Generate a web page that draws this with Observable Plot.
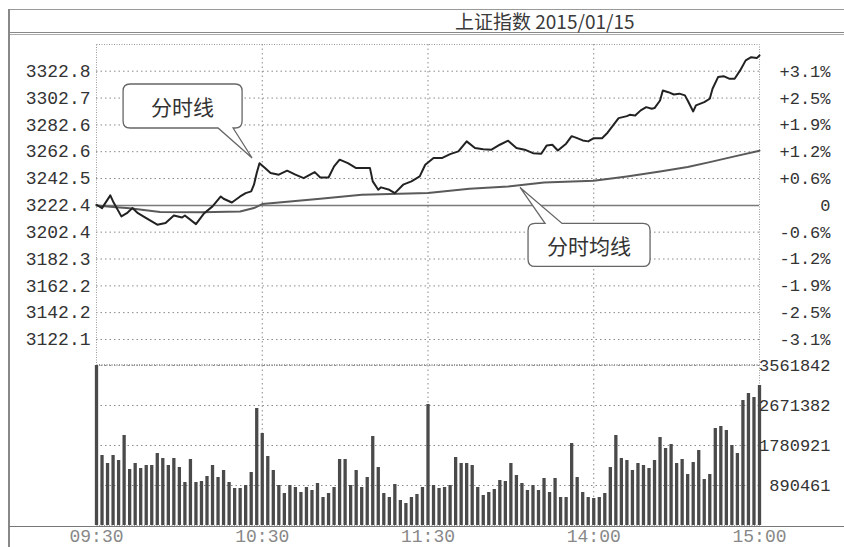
<!DOCTYPE html>
<html><head><meta charset="utf-8">
<script src="https://cdn.jsdelivr.net/npm/d3@7"></script>
<script src="https://cdn.jsdelivr.net/npm/@observablehq/plot@0.6"></script>
<style>
body{margin:0;background:#fff;}
#wrap{position:relative;width:844px;height:547px;overflow:hidden;background:#fff;}
.abs{position:absolute;}
#title{left:455px;top:9px;font-family:"Noto Sans CJK SC",sans-serif;font-size:19px;line-height:24px;color:#3a3a3a;white-space:nowrap;}
</style></head><body>
<div id="wrap">
  <div class="abs" style="left:9px;top:9px;width:835px;height:1px;background:#999"></div>
  <div class="abs" style="left:9px;top:32px;width:835px;height:1px;background:#888"></div>
  <div class="abs" style="left:9px;top:34px;width:835px;height:1px;background:#aaa"></div>
  <div class="abs" style="left:8px;top:9px;width:2px;height:538px;background:#888"></div>
  <div class="abs" id="title">上证指数 2015/01/15</div>
  <div class="abs" id="price" style="left:0;top:0"></div>
  <div class="abs" id="vol" style="left:0;top:340px"></div>
  <div class="abs" style="left:9px;top:526px;width:835px;height:1px;background:#777"></div>
</div>
<script>
// ---- data ----
const prevClose = 3222.4;
const timeTicks = [0, 60, 120, 180, 240];
const timeLabels = ["09:30", "10:30", "11:30", "14:00", "15:00"];
const priceTicks = [3322.8, 3302.7, 3282.6, 3262.6, 3242.5, 3222.4, 3202.4, 3182.3, 3162.2, 3142.2, 3122.1];
const pctLabels = ["+3.1%", "+2.5%", "+1.9%", "+1.2%", "+0.6%", "0", "-0.6%", "-1.2%", "-1.9%", "-2.5%", "-3.1%"];
const volTicks = [3561842, 2671382, 1780921, 890461];

const priceMinutes = [0,2,5,6,9,11,13,15,18,22,25,28,31,32,36,39,42,45,46,49,52,54,56,57,58,59,61,63,66,69,72,75,79,81,84,86,88,91,94,97,99,100,102,103,106,108,111,114,117,119,122,125,128,131,134,137,140,143,146,149,152,155,158,161,163,165,167,170,172,174,176,178,180,183,185,187,189,192,193,195,197,199,201,202,204,205,207,209,211,213,214,216,217,220,222,223,225,227,229,231,233,235,237,239,240];
const priceValues = [3222.9,3220.4,3229.9,3225.4,3214.2,3216.6,3220.4,3216.6,3212.9,3208.0,3209.2,3214.9,3213.4,3214.9,3208.4,3216.6,3221.7,3229.1,3227.4,3224.6,3229.1,3231.6,3232.9,3237.9,3246.6,3254.0,3250.3,3246.6,3245.4,3248.4,3245.4,3242.8,3247.3,3243.3,3243.3,3251.6,3256.6,3254.0,3250.3,3250.3,3250.3,3240.4,3234.1,3235.9,3234.1,3231.6,3237.9,3240.4,3244.1,3252.8,3257.8,3257.8,3260.8,3262.8,3270.3,3265.3,3264.5,3264.1,3267.8,3270.8,3265.3,3264.1,3261.5,3261.0,3267.3,3267.8,3263.5,3268.6,3274.2,3272.7,3271.0,3270.3,3272.7,3272.7,3276.8,3282.2,3287.7,3289.2,3290.2,3289.7,3293.5,3295.9,3294.7,3295.2,3300.9,3308.4,3307.1,3305.4,3306.0,3304.7,3300.9,3292.7,3297.2,3299.7,3302.2,3309.7,3318.4,3319.1,3317.2,3317.2,3323.4,3330.9,3333.3,3332.6,3334.6];

const avgMinutes = [0,6,12,23,38,52,57,60,81,96,120,135,149,162,180,192,204,214,222,231,240];
const avgValues = [3222.4,3221.3,3220.2,3217.5,3217.2,3217.9,3220.4,3223.4,3227.3,3230.4,3231.6,3234.9,3236.6,3239.6,3240.9,3244.1,3247.8,3251.2,3254.8,3259.1,3263.3];

const volumes = [3560000,1558000,1380000,1558000,1447000,2004000,1247000,1380000,1269000,1336000,
  1336000,1603000,1492000,1336000,1492000,1291000,957000,1469000,957000,980000,
  1091000,1336000,1069000,1224000,957000,824000,824000,890000,1180000,2605000,
  2048000,1536000,1224000,890000,712000,890000,846000,735000,846000,779000,
  935000,623000,712000,846000,1469000,1469000,890000,1224000,846000,1069000,
  1981000,1291000,712000,623000,913000,557000,490000,623000,690000,846000,
  2694000,890000,824000,846000,890000,1514000,1380000,1380000,1336000,846000,
  668000,735000,801000,1002000,980000,1380000,1113000,935000,779000,890000,
  779000,1046000,735000,1046000,623000,623000,1825000,1069000,735000,623000,
  601000,623000,712000,1291000,2004000,1492000,1447000,1224000,1380000,1336000,
  1269000,1447000,1959000,1714000,1803000,1380000,1469000,1135000,1403000,1670000,
  1024000,1135000,2159000,2204000,2115000,1781000,1603000,2783000,2939000,2850000,
  3117000];

const priceData = priceMinutes.map((m, i) => ({m, p: priceValues[i]}));
const avgData = avgMinutes.map((m, i) => ({m, p: avgValues[i]}));
const volData = volumes.map((v, i) => ({m: i * 2, v}));

const dotted = {stroke: "#8a8a8a", strokeDasharray: "1.5,3"};
const mono = {fontFamily: "'Liberation Mono', monospace", fontSize: "18px", color: "#333", background: "transparent", overflow: "visible"};

// ---- price panel ----
const price = Plot.plot({
  width: 844, height: 365,
  marginLeft: 96, marginRight: 85, marginTop: 44, marginBottom: 1,
  x: {domain: [0, 240], axis: null, label: null},
  y: {domain: [3122.1, 3322.8], range: [339, 70.7], label: null},
  style: mono,
  marks: [
    Plot.ruleY(priceTicks.filter(v => v !== prevClose), dotted),
    Plot.ruleX([60, 120, 180], dotted),
    Plot.frame({stroke: "#999", strokeDasharray: "1,1.5"}),
    Plot.ruleY([prevClose], {stroke: "#7a7a7a", strokeWidth: 1.5}),
    Plot.line(avgData, {x: "m", y: "p", stroke: "#5a5a5a", strokeWidth: 2}),
    Plot.line(priceData, {x: "m", y: "p", stroke: "#222", strokeWidth: 2}),
    Plot.axisY(priceTicks, {anchor: "left", label: null, tickSize: 0, tickPadding: 6, tickFormat: d => d.toFixed(1), fill: "#333"}),
    Plot.axisY(priceTicks, {anchor: "right", label: null, tickSize: 0, tickPadding: 0, textAnchor: "end", dx: 71, fontSize: 17,
      tickFormat: d => pctLabels[priceTicks.indexOf(d)], fill: "#333"})
  ]
});
document.getElementById("price").appendChild(price);

// callouts
const sx = price.scale("x"), sy = price.scale("y");
const svg = d3.select(price);
function callout(tip, box, tail, label, top) {
  const tx = sx.apply(tip.m), ty = sy.apply(tip.p);
  const x = tx + box.dx, y = ty + box.dy, w = box.w, h = box.h, r = 7;
  const t1 = x + tail[0], t2 = x + tail[1];
  let d;
  if (!top) {
    d = `M${x+r},${y}H${x+w-r}Q${x+w},${y} ${x+w},${y+r}V${y+h-r}Q${x+w},${y+h} ${x+w-r},${y+h}H${t2}L${tx},${ty}L${t1},${y+h}H${x+r}Q${x},${y+h} ${x},${y+h-r}V${y+r}Q${x},${y} ${x+r},${y}Z`;
  } else {
    d = `M${x+r},${y}H${t1}L${tx},${ty}L${t2},${y}H${x+w-r}Q${x+w},${y} ${x+w},${y+r}V${y+h-r}Q${x+w},${y+h} ${x+w-r},${y+h}H${x+r}Q${x},${y+h} ${x},${y+h-r}V${y+r}Q${x},${y} ${x+r},${y}Z`;
  }
  svg.append("path").attr("d", d).attr("fill", "#fff").attr("stroke", "#666").attr("stroke-width", 1.3);
  svg.append("text").attr("x", x + w / 2).attr("y", y + h / 2).attr("text-anchor", "middle")
    .attr("dominant-baseline", "central").attr("fill", "#333")
    .style("font-family", "'Noto Sans CJK SC', sans-serif").style("font-size", "21px").text(label);
}
callout({m: 56.5, p: 3257.5}, {dx: -129, dy: -74, w: 119, h: 44}, [95, 110], "分时线", false);
callout({m: 153.5, p: 3235.5}, {dx: 8, dy: 36, w: 122, h: 43}, [17, 34], "分时均线", true);

// ---- volume panel ----
const vol = Plot.plot({
  width: 844, height: 207,
  marginLeft: 96, marginRight: 85, marginTop: 25, marginBottom: 22,
  x: {domain: [0, 240], label: null},
  y: {domain: [0, 3561842], label: null},
  style: mono,
  marks: [
    Plot.ruleY(volTicks, dotted),
    Plot.ruleX([60, 120, 180], dotted),
    Plot.frame({stroke: "#999", strokeDasharray: "1,1.5"}),
    Plot.ruleX(volData, {x: "m", y: "v", stroke: "#4a4a4a", strokeWidth: 3.3}),
    Plot.axisY(volTicks, {anchor: "right", label: null, tickSize: 0, tickPadding: 0, textAnchor: "end", dx: 71, fontSize: 17,
      tickFormat: d => String(d), fill: "#333"}),
    Plot.axisX(timeTicks, {anchor: "bottom", label: null, tickSize: 0, tickPadding: 4,
      tickFormat: d => timeLabels[timeTicks.indexOf(d)], fill: "#888"})
  ]
});
document.getElementById("vol").appendChild(vol);
</script>
</body></html>
